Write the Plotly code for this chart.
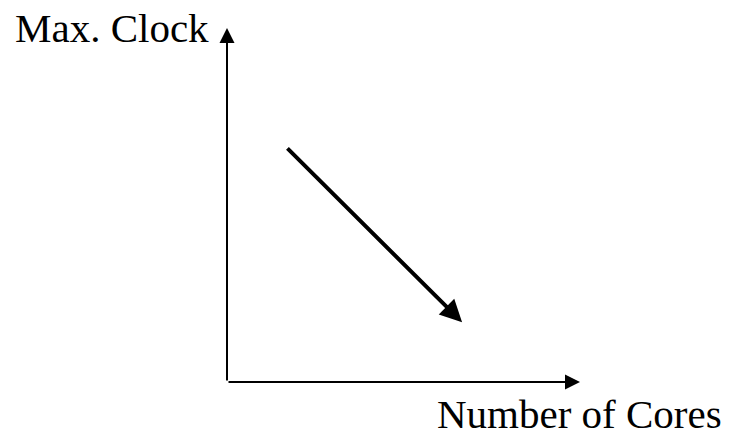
import plotly.graph_objects as go

# Schematic data (abstract units)
axis_x = [0, 10]          # horizontal axis: origin -> tip
axis_y = [0, 10]          # vertical axis: origin -> tip
trend_x = [1.67, 6.66]    # arrow: start -> end (cores increase)
trend_y = [6.64, 1.69]    # max clock decreases
labels = ["Max. Clock", "Number of Cores"]

W, H = 739, 440
FONT = "Liberation Serif, Times New Roman, serif"

fig = go.Figure()
# invisible trace to anchor axes
fig.add_trace(go.Scatter(x=trend_x, y=trend_y, mode="lines",
                         line=dict(color="rgba(0,0,0,0)"), hoverinfo="skip",
                         showlegend=False))

ann = []
# horizontal axis
ann.append(dict(x=axis_x[1], y=0, ax=axis_x[0], ay=0, xref="x", yref="y",
                axref="x", ayref="y", text="", showarrow=True, arrowhead=2,
                arrowsize=1.5, arrowwidth=2, arrowcolor="black", standoff=0))
# vertical axis
ann.append(dict(x=0, y=axis_y[1], ax=0, ay=axis_y[0], xref="x", yref="y",
                axref="x", ayref="y", text="", showarrow=True, arrowhead=2,
                arrowsize=1.5, arrowwidth=2, arrowcolor="black", standoff=0))
# trend arrow
ann.append(dict(x=trend_x[1], y=trend_y[1], ax=trend_x[0], ay=trend_y[0],
                xref="x", yref="y", axref="x", ayref="y", text="",
                showarrow=True, arrowhead=2, arrowsize=1.1, arrowwidth=4,
                arrowcolor="black", standoff=0))
# labels
ann.append(dict(x=112 / W, y=1 - 28 / H, xref="paper", yref="paper",
                text=labels[0], showarrow=False, xanchor="center",
                yanchor="middle", font=dict(family=FONT, size=41, color="black")))
ann.append(dict(x=579 / W, y=1 - 414 / H, xref="paper", yref="paper",
                text=labels[1], showarrow=False, xanchor="center",
                yanchor="middle", font=dict(family=FONT, size=41, color="black")))

# map data units to pixels: x=0 at 227px, x=10 at 580px; y=0 at 382px, y=10 at 28px
px_x = (580 - 227) / 10
px_y = (382 - 28) / 10
xr = [-227 / px_x, (W - 227) / px_x]
yr = [-(H - 382) / px_y, 382 / px_y]

fig.update_layout(
    width=W, height=H,
    margin=dict(l=0, r=0, t=0, b=0),
    paper_bgcolor="white", plot_bgcolor="white",
    xaxis=dict(range=xr, visible=False, fixedrange=True),
    yaxis=dict(range=yr, visible=False, fixedrange=True),
    annotations=ann,
    showlegend=False,
)
fig.write_html("out.html", config={"displayModeBar": False},
               post_script="document.body.style.margin='0';document.body.style.overflow='hidden';")
